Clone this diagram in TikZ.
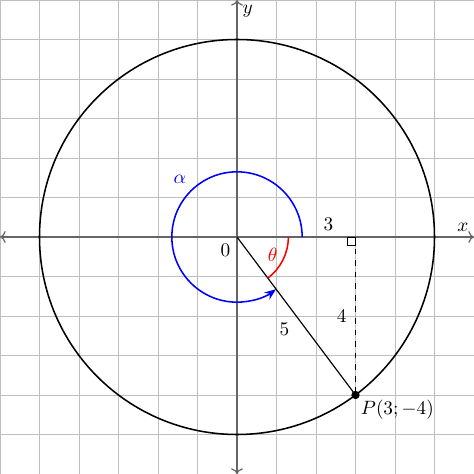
\documentclass[tikz,border=0pt]{standalone}
\usepackage{amsmath,amssymb}
\usetikzlibrary{arrows.meta,calc,positioning}

\begin{document}
\begin{tikzpicture}[scale=0.72,every node/.style={font=\normalsize}]
  \useasboundingbox (-6,-6) rectangle (6,6);
  % grid and axes
  \draw[gray!50,thin] (-6,-6) grid (6,6);
  \draw[<->,black!60,semithick] (-6,0)--(6,0) node[above left=-1pt,black]{$x$};
  \draw[<->,black!60,semithick] (0,-6)--(0,6) node[below right=-1pt,black]{$y$};
  % circle and radius
  \coordinate (O) at (0,0);
  \coordinate (P) at (3,-4);
  \coordinate (H) at (3,0);
  \draw[thick] (O) circle (5);
  \draw[semithick] (O)--(P) node[pos=0.5,below left]{$5$};
  \draw[dashed,semithick] (H)--(P) node[pos=0.5,left=1pt]{$4$};
  \draw (H) rectangle ++(-0.2,-0.2);
  \node[above left=0pt and 8pt] at (H) {$3$};
  \node[below left=0pt] at (O) {$0$};
  % angles
  \draw[red,thick] (1.3,0) arc (0:-53.13:1.3);
  \node[red] at (0.9,-0.45) {$\theta$};
  \draw[blue,thick,-{Stealth[length=6pt]}] (1.65,0) arc (0:306.87:1.65);
  \node[blue] at (-1.45,1.45) {$\alpha$};
  % point
  \fill (P) circle (3pt) node[below right=-1pt]{$P(3;-4)$};
\end{tikzpicture}
\end{document}
